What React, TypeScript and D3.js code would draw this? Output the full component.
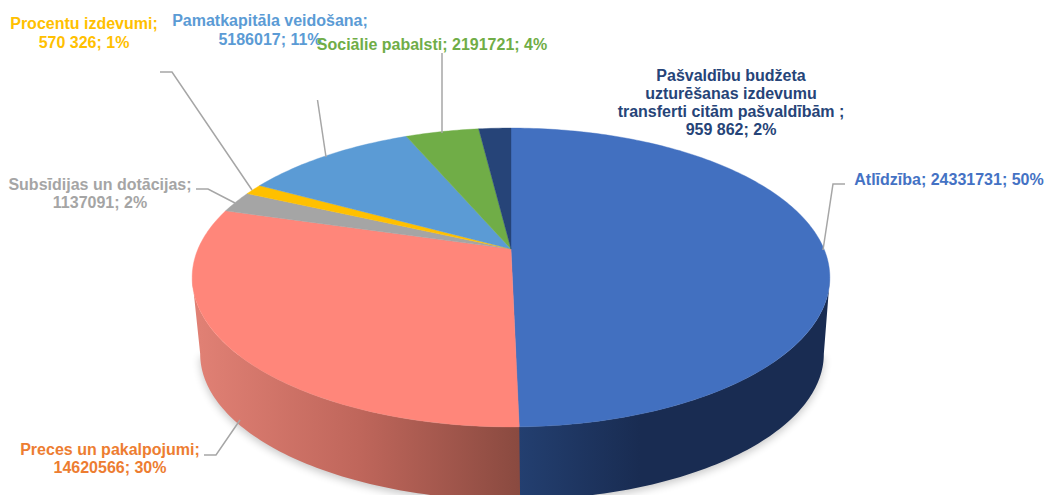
import React from "react";
import * as d3 from "d3";

const categories = ["Atlīdzība", "Preces un pakalpojumi", "Subsīdijas un dotācijas", "Procentu izdevumi", "Pamatkapitāla veidošana", "Sociālie pabalsti", "Pašvaldību budžeta uzturēšanas izdevumu transferti citām pašvaldībām"];
const values = [24331731, 14620566, 1137091, 570326, 5186017, 2191721, 959862];
const colors = ["#4270C0", "#FF867A", "#A5A5A5", "#FFC000", "#5B9BD5", "#70AD47", "#264478"];
const labelLines = [
  ["Atlīdzība; 24331731; 50%"],
  ["Preces un pakalpojumi;", "14620566; 30%"],
  ["Subsīdijas un dotācijas;", "1137091; 2%"],
  ["Procentu izdevumi;", "570 326; 1%"],
  ["Pamatkapitāla veidošana;", "5186017; 11%"],
  ["Sociālie pabalsti; 2191721; 4%"],
  ["Pašvaldību budžeta", "uzturēšanas izdevumu", "transferti citām pašvaldībām ;", "959 862; 2%"],
];
const labelColors = ["#4472C4", "#ED7D31", "#A5A5A5", "#FFC000", "#5B9BD5", "#70AD47", "#264478"];
const labelPos = [[949, 185], [110, 455], [100, 190], [84, 29], [270, 26], [432, 50], [731, 81]];
const labelStep = [18, 18, 18, 18.5, 19, 18, 18];
const leaders = [
  [[845, 184], [833, 184], [823, 250]],
  [[204, 455], [216, 455], [240, 420]],
  [[196, 189], [208, 189], [235, 203]],
  [[160, 72], [172, 72], [252, 190]],
  [[317.5, 100], [326, 157]],
  [[442, 53], [442, 133]],
];

const W = 1051, H = 495;
const k = 0.1906;      // perspective strength
const focalX = 313, focalY = 144;
const apexTop = [511, 249];
const apexBottom = [512, 326];
const bottomScale = 0.978;

function project(theta: number, plane: "top" | "bottom"): [number, number] {
  const X = Math.sin(theta), Z = Math.cos(theta);
  const d = 1 + k * Z;
  const s = plane === "top" ? 1 : bottomScale;
  const a = plane === "top" ? apexTop : apexBottom;
  return [a[0] + (s * focalX * X) / d, a[1] - (s * focalY * Z) / d];
}

const pieGen = d3.pie<number>().sort(null).value((d) => d);
const arcs = pieGen(values);
const lineGen = d3.line<[number, number]>();
const thetas = (a0: number, a1: number) => {
  const n = Math.max(2, Math.ceil(((a1 - a0) * 180) / Math.PI));
  return d3.range(n + 1).map((i) => a0 + ((a1 - a0) * i) / n);
};
const faceD = (a0: number, a1: number) =>
  lineGen([apexTop as [number, number], ...thetas(a0, a1).map((t) => project(t, "top"))]) + "Z";
const wallD = (a0: number, a1: number) =>
  lineGen([
    ...thetas(a0, a1).map((t) => project(t, "top")),
    ...thetas(a0, a1).reverse().map((t) => project(t, "bottom")),
  ]) + "Z";
const silhouette = Math.acos(-k);
const shadowD = lineGen(thetas(silhouette, 2 * Math.PI - silhouette).map((t) => project(t, "bottom"))) + "Z";

export default function App() {
  return (
    <svg width={W} height={H} viewBox={`0 0 ${W} ${H}`} style={{ position: "fixed", left: 0, top: 0, background: "#fff" }}>
      <defs>
        <linearGradient id="wallSalmon" gradientUnits="userSpaceOnUse" x1={200} x2={519} y1={0} y2={0}>
          <stop offset="0" stopColor="#E08074" />
          <stop offset="0.5" stopColor="#BF665B" />
          <stop offset="1" stopColor="#8A4A40" />
        </linearGradient>
        <linearGradient id="wallBlue" gradientUnits="userSpaceOnUse" x1={519} x2={640} y1={0} y2={0}>
          <stop offset="0" stopColor="#233F70" />
          <stop offset="1" stopColor="#192C52" />
        </linearGradient>
        <filter id="soft" x="-10%" y="-10%" width="120%" height="120%">
          <feGaussianBlur stdDeviation="4" />
        </filter>
      </defs>
      <path d={shadowD} fill="#000" opacity={0.22} filter="url(#soft)" transform="translate(0,3)" />
      <path d={wallD(arcs[0].endAngle - 0.002, 2 * Math.PI - silhouette)} fill="url(#wallSalmon)" />
      <path d={wallD(silhouette, arcs[0].endAngle)} fill="url(#wallBlue)" />
      {arcs.map((a, i) => (
        <path key={categories[i]} d={faceD(a.startAngle, a.endAngle)} fill={colors[i]} stroke={colors[i]} strokeWidth={0.4} />
      ))}
      {leaders.map((pts, i) => (
        <path key={i} d={lineGen(pts as [number, number][]) as string} fill="none" stroke="#A6A6A6" strokeWidth={1.5} />
      ))}
      {labelLines.map((lines, i) => (
        <text key={i} fontFamily="'Liberation Sans', Arial, sans-serif" fontWeight={700} fontSize={16} fill={labelColors[i]} textAnchor="middle">
          {lines.map((l, j) => (
            <tspan key={j} x={labelPos[i][0]} y={labelPos[i][1] + j * labelStep[i]}>{l}</tspan>
          ))}
        </text>
      ))}
    </svg>
  );
}
